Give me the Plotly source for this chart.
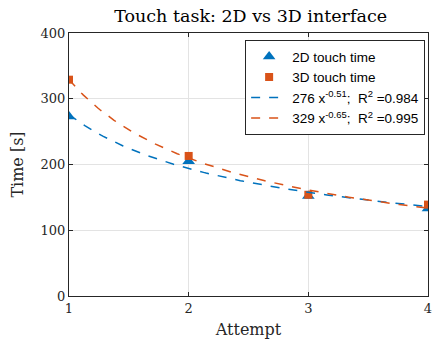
import numpy as np
import plotly.graph_objects as go

attempts = [1, 2, 3, 4]
touch_2d = [273, 205, 152, 133]
touch_3d = [329, 213, 154, 139]
fit_2d = (276, -0.51, 0.984)
fit_3d = (329, -0.65, 0.995)
y_ticks = [0, 100, 200, 300, 400]

blue = "#0072BD"
orange = "#D95319"

xf = np.linspace(1, 4, 200)

fig = go.Figure()
fig.add_trace(go.Scatter(x=attempts, y=touch_2d, mode="markers", name="2D touch time",
                         marker=dict(symbol="triangle-up", size=11, color=blue)))
fig.add_trace(go.Scatter(x=attempts, y=touch_3d, mode="markers", name="3D touch time",
                         marker=dict(symbol="square", size=8, color=orange)))
for (a, b, r2), col in [(fit_2d, blue), (fit_3d, orange)]:
    fig.add_trace(go.Scatter(x=xf, y=a * xf ** b, mode="lines",
                             name=f"{a} x<sup>{b:.2f}</sup>;  R<sup>2</sup> ={r2:.3f}",
                             line=dict(color=col, width=1.5, dash="dash")))

serif = "DejaVu Serif"
axis_common = dict(showline=True, linecolor="#262626", linewidth=1, mirror="ticks",
                   ticks="inside", ticklen=4, tickcolor="#262626",
                   showgrid=True, gridcolor="#e3e3e3", gridwidth=1, zeroline=False,
                   ticklabeloverflow="allow",
                   tickfont=dict(family=serif, size=13, color="#262626"))
fig.update_layout(
    width=434, height=345,
    margin=dict(l=69, r=2, t=33, b=49),
    paper_bgcolor="white", plot_bgcolor="white",
    title=dict(text="Touch task: 2D vs 3D interface", x=0.5775, xanchor="center",
               y=0.955, yanchor="middle", font=dict(family=serif, size=17.5, color="black")),
    xaxis=dict(range=[1, 4], tickvals=attempts,
               title=dict(text="Attempt", font=dict(family=serif, size=16, color="#262626"), standoff=9),
               **axis_common),
    yaxis=dict(range=[0, 400], tickvals=y_ticks,
               title=dict(text="Time [s]", font=dict(family=serif, size=16, color="#262626"), standoff=12),
               **axis_common),
    legend=dict(x=0.992, y=0.973, xanchor="right", yanchor="top",
                bgcolor="white", bordercolor="#262626", borderwidth=1,
                font=dict(family="Liberation Sans", size=13.5, color="black"),
                tracegroupgap=0, itemwidth=36),
    showlegend=True,
)
fig.write_html("out.html")
